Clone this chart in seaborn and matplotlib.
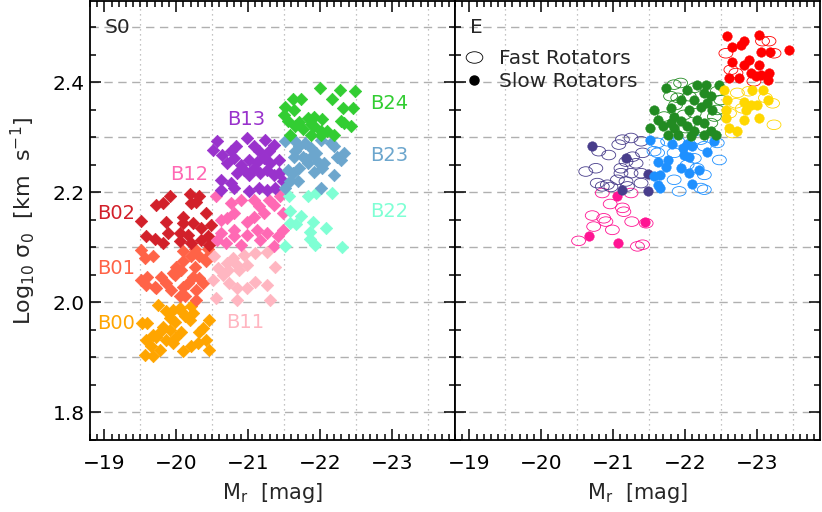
import numpy as np
import matplotlib
matplotlib.use("Agg")
import matplotlib.pyplot as plt
from matplotlib.path import Path
from matplotlib.transforms import Affine2D
from matplotlib.lines import Line2D
from matplotlib.ticker import MultipleLocator
import seaborn as sns

# ---------------- S0 panel data (M_r, log10 sigma0) ----------------
b00_mag = [-19.74, -19.53, -19.60, -19.58, -19.67, -19.86, -19.95, -20.05, -19.91, -19.98,
           -20.07, -20.12, -20.21, -20.23, -20.19, -19.81, -19.91, -19.77, -19.72, -19.65,
           -19.77, -19.56, -19.67, -19.95, -20.09, -20.07, -20.21, -20.30, -20.32, -20.37,
           -20.42, -20.46, -20.46, -19.98, -19.86]
b00_sig = [1.996, 1.963, 1.963, 1.932, 1.941, 1.984, 1.987, 1.990, 1.972, 1.965,
           1.984, 1.975, 1.993, 1.981, 1.969, 1.956, 1.950, 1.947, 1.938, 1.920,
           1.914, 1.905, 1.902, 1.927, 1.911, 1.947, 1.920, 1.927, 1.947, 1.954,
           1.932, 1.914, 1.969, 1.936, 1.932]

b01_mag = [-19.51, -19.56, -19.67, -19.51, -19.60, -19.79, -19.72, -19.93, -20.00, -20.09,
           -20.21, -20.32, -20.46, -20.42, -20.26, -20.07, -19.98, -20.23, -20.32, -20.16,
           -20.09, -20.28, -20.05, -20.12, -20.37, -20.44, -20.26, -20.09, -19.58, -19.70,
           -19.86, -19.95, -20.28]
b01_sig = [2.096, 2.081, 2.084, 2.041, 2.047, 2.047, 2.027, 2.023, 2.065, 2.075,
           2.084, 2.084, 2.087, 2.075, 2.065, 2.059, 2.050, 2.047, 2.045, 2.036,
           2.029, 2.023, 2.011, 2.011, 2.036, 2.098, 2.098, 2.093, 2.032, 2.029,
           2.036, 2.054, 2.005]

b02_mag = [-19.91, -20.19, -20.32, -20.21, -20.28, -20.42, -19.81, -19.72, -19.51, -19.86,
           -20.09, -20.09, -20.23, -20.35, -20.49, -19.58, -19.70, -19.81, -19.88, -20.05,
           -20.16, -20.05, -20.21, -20.35, -20.44, -20.46]
b02_sig = [2.194, 2.198, 2.194, 2.181, 2.183, 2.163, 2.181, 2.178, 2.149, 2.147,
           2.156, 2.145, 2.145, 2.136, 2.141, 2.120, 2.116, 2.109, 2.127, 2.127,
           2.123, 2.111, 2.109, 2.114, 2.120, 2.105]

b11_mag = [-20.53, -20.70, -20.79, -20.84, -20.99, -20.51, -20.65, -20.74, -20.84, -20.99,
           -21.09, -21.26, -21.37, -20.56, -20.84, -21.30, -20.88, -20.72, -20.58, -20.95,
           -21.09, -21.27]
b11_sig = [2.084, 2.072, 2.081, 2.069, 2.069, 2.041, 2.050, 2.036, 2.027, 2.027,
           2.038, 2.032, 2.065, 2.009, 2.005, 2.005, 2.059, 2.059, 2.063, 2.087,
           2.090, 2.092]

b12_mag = [-20.55, -20.76, -20.71, -20.62, -20.80, -20.90, -21.08, -21.15, -21.22, -21.29,
           -21.36, -21.45, -21.48, -21.08, -20.99, -20.80, -20.62, -20.57, -20.80, -20.99,
           -21.13, -21.27, -21.41, -21.49, -21.17, -21.36, -20.90, -20.69]
b12_sig = [2.193, 2.181, 2.153, 2.150, 2.162, 2.187, 2.187, 2.175, 2.162, 2.187,
           2.178, 2.193, 2.162, 2.156, 2.147, 2.132, 2.126, 2.114, 2.120, 2.123,
           2.132, 2.126, 2.120, 2.132, 2.114, 2.102, 2.105, 2.108]

b13_mag = [-20.57, -20.64, -20.76, -20.83, -20.99, -21.08, -21.15, -21.24, -21.36, -21.29,
           -20.71, -20.80, -20.90, -21.01, -21.13, -21.22, -21.31, -21.43, -20.62, -20.76,
           -20.85, -20.94, -21.01, -21.08, -21.17, -21.27, -21.36, -21.43, -20.62, -20.80,
           -21.01, -21.15, -21.27, -21.38, -21.48, -20.51]
b13_sig = [2.293, 2.268, 2.275, 2.284, 2.299, 2.284, 2.275, 2.296, 2.287, 2.275,
           2.253, 2.262, 2.250, 2.259, 2.256, 2.262, 2.253, 2.259, 2.223, 2.217,
           2.235, 2.241, 2.232, 2.244, 2.235, 2.241, 2.232, 2.235, 2.205, 2.208,
           2.202, 2.208, 2.205, 2.208, 2.220, 2.278]

b22_mag = [-21.57, -21.83, -21.94, -22.17, -21.59, -21.73, -21.58, -21.67, -21.90, -22.08,
           -21.86, -21.86, -21.93, -21.52, -22.31]
b22_sig = [2.193, 2.193, 2.199, 2.199, 2.166, 2.157, 2.145, 2.143, 2.147, 2.135,
           2.128, 2.115, 2.105, 2.102, 2.101]

b23_mag = [-21.52, -21.64, -21.71, -21.66, -21.79, -21.87, -21.94, -22.01, -22.15, -22.20,
           -21.64, -21.76, -21.90, -21.83, -21.97, -22.06, -22.24, -22.34, -22.29, -21.55,
           -21.62, -21.71, -21.92, -22.03, -22.20, -21.59, -21.69, -22.01, -21.52, -21.80]
b23_sig = [2.293, 2.296, 2.284, 2.275, 2.290, 2.281, 2.272, 2.296, 2.290, 2.284,
           2.265, 2.265, 2.268, 2.253, 2.256, 2.253, 2.265, 2.272, 2.259, 2.241,
           2.235, 2.244, 2.238, 2.244, 2.232, 2.220, 2.220, 2.208, 2.208, 2.261]

b24_mag = [-22.00, -22.28, -22.49, -22.17, -21.62, -21.73, -21.51, -22.32, -22.46, -21.50,
           -21.64, -21.83, -21.92, -22.03, -21.71, -21.87, -22.29, -22.34, -22.43, -21.66,
           -21.76, -21.92, -22.01, -22.10, -22.20, -21.59, -21.87, -22.01, -21.55]
b24_sig = [2.390, 2.387, 2.385, 2.370, 2.370, 2.369, 2.356, 2.353, 2.353, 2.341,
           2.350, 2.335, 2.338, 2.334, 2.328, 2.325, 2.329, 2.326, 2.321, 2.320,
           2.316, 2.320, 2.311, 2.311, 2.305, 2.305, 2.305, 2.305, 2.330]

s0_bins = ["B00", "B01", "B02", "B11", "B12", "B13", "B22", "B23", "B24"]
s0_colors = ["#FFA500", "#FF6347", "#D2202A", "#FFB6C1", "#FF69B4", "#9932CC",
             "#7FFFD4", "#6CA6CD", "#32CD32"]
s0_label_mag = [-18.90, -18.90, -18.90, -20.70, -19.91, -20.71, -22.70, -22.70, -22.70]
s0_label_sig = [1.962, 2.061, 2.161, 1.963, 2.232, 2.332, 2.165, 2.267, 2.362]

# ---------------- E panel data ----------------
pink_fast_mag = [-20.85, -21.25, -20.96, -21.13, -21.15, -20.71, -20.87, -20.90, -20.73, -20.99,
                 -21.26, -21.46, -20.52, -21.34, -21.41]
pink_fast_sig = [2.199, 2.199, 2.179, 2.172, 2.165, 2.158, 2.153, 2.147, 2.138, 2.132,
                 2.147, 2.144, 2.112, 2.102, 2.105]
pink_slow_mag = [-21.06, -21.44, -20.66, -21.07]
pink_slow_sig = [2.193, 2.147, 2.121, 2.109]

slate_fast_mag = [-21.13, -21.25, -21.39, -21.08, -20.80, -20.94, -21.41, -21.27, -21.18, -21.32,
                  -20.62, -20.76, -21.11, -21.11, -21.25, -21.39, -20.78, -20.92, -20.85, -21.06,
                  -21.18, -21.39, -21.20, -20.97]
slate_fast_sig = [2.296, 2.299, 2.293, 2.287, 2.275, 2.268, 2.272, 2.265, 2.256, 2.253,
                  2.238, 2.244, 2.244, 2.235, 2.235, 2.235, 2.217, 2.214, 2.211, 2.223,
                  2.220, 2.217, 2.211, 2.210]
slate_slow_mag = [-20.71, -21.18, -21.49, -21.13, -21.48]
slate_slow_sig = [2.285, 2.262, 2.233, 2.205, 2.202]

blue_fast_mag = [-21.62, -21.76, -21.90, -22.22, -22.27, -22.45, -21.62, -21.85, -22.13, -22.48,
                 -22.17, -22.27, -21.92, -22.22, -22.27, -21.57, -22.03, -21.85]
blue_fast_sig = [2.290, 2.293, 2.293, 2.296, 2.284, 2.290, 2.272, 2.272, 2.262, 2.259,
                 2.244, 2.232, 2.202, 2.208, 2.205, 2.275, 2.250, 2.223]
blue_slow_mag = [-21.51, -21.82, -22.03, -22.10, -21.97, -21.99, -22.06, -22.31, -22.41, -21.62,
                 -21.76, -21.73, -21.94, -22.06, -22.20, -21.57, -21.66, -21.62, -21.66, -22.10]
blue_slow_sig = [2.296, 2.288, 2.288, 2.285, 2.281, 2.268, 2.265, 2.273, 2.293, 2.256,
                 2.259, 2.247, 2.244, 2.235, 2.241, 2.229, 2.232, 2.214, 2.208, 2.216]

green_fast_mag = [-21.85, -21.94, -22.13, -21.80, -21.90, -22.06, -22.45, -22.50, -22.41, -21.71,
                  -22.13, -21.99, -22.36, -22.01, -22.22, -21.87, -22.45]
green_fast_sig = [2.396, 2.399, 2.390, 2.375, 2.372, 2.375, 2.384, 2.368, 2.338, 2.338,
                  2.344, 2.341, 2.326, 2.317, 2.317, 2.359, 2.350]
green_slow_mag = [-21.73, -22.03, -22.17, -22.29, -22.48, -22.27, -22.36, -21.94, -22.13, -22.31,
                  -21.57, -21.80, -22.06, -22.22, -22.38, -21.62, -21.85, -21.94, -22.17, -22.27,
                  -21.52, -21.69, -21.85, -22.03, -22.13, -22.36, -21.76, -21.90, -22.08, -22.27,
                  -22.43, -21.80]
green_slow_sig = [2.390, 2.387, 2.396, 2.396, 2.396, 2.381, 2.375, 2.368, 2.368, 2.362,
                  2.350, 2.353, 2.350, 2.356, 2.350, 2.332, 2.338, 2.329, 2.332, 2.326,
                  2.317, 2.320, 2.317, 2.320, 2.311, 2.311, 2.305, 2.305, 2.302, 2.305,
                  2.305, 2.326]

gold_fast_mag = [-22.73, -22.80, -22.89, -23.12, -23.24, -22.66, -22.71, -23.22, -22.62]
gold_fast_sig = [2.381, 2.353, 2.384, 2.372, 2.323, 2.308, 2.362, 2.362, 2.344]
gold_slow_mag = [-22.55, -22.59, -22.57, -22.57, -22.94, -23.08, -22.82, -22.92, -23.01, -23.15,
                 -22.85, -22.82, -23.03, -22.73, -22.62]
gold_slow_sig = [2.387, 2.368, 2.350, 2.335, 2.387, 2.387, 2.365, 2.359, 2.359, 2.368,
                 2.350, 2.332, 2.335, 2.311, 2.317]

red_fast_mag = [-22.57, -23.17, -23.08, -22.64, -22.71, -22.96, -23.24]
red_fast_sig = [2.453, 2.475, 2.475, 2.423, 2.417, 2.402, 2.453]
red_slow_mag = [-22.59, -22.66, -22.78, -22.82, -23.03, -23.06, -23.19, -23.45, -22.66, -22.82,
                -22.89, -23.03, -22.92, -23.06, -23.17, -22.62, -22.75, -23.15, -22.99]
red_slow_sig = [2.484, 2.465, 2.468, 2.475, 2.487, 2.456, 2.456, 2.459, 2.438, 2.432,
                2.441, 2.432, 2.417, 2.414, 2.417, 2.408, 2.408, 2.405, 2.411]

e_colors = ["#FF1493", "#483D8B", "#1E90FF", "#228B22", "#FFD700", "#FF0000"]

panel_titles = ["S0", "E"]
legend_labels = ["Fast Rotators", "Slow Rotators"]
x_ticks = [-19, -20, -21, -22, -23]
y_ticks = [1.8, 2.0, 2.2, 2.4]

# ---------------- styling ----------------
sns.set_style("white")
plt.rcParams["font.family"] = ["DejaVu Sans"]
plt.rcParams["axes.linewidth"] = 1.3

FS = 14.5
fig = plt.figure(figsize=(8.22, 5.12), dpi=100)
W, H = 822.0, 512.0
axL = fig.add_axes([90 / W, 72 / H, 365 / W, 439 / H])
axR = fig.add_axes([455 / W, 72 / H, 365 / W, 439 / H])

for ax in (axL, axR):
    ax.set_xlim(-18.8, -23.88)
    ax.set_ylim(1.75, 2.548)
    for v in np.arange(1.8, 2.55, 0.1):
        ax.axhline(v, color="#b0b0b0", lw=1.0, ls=(0, (6, 4)), zorder=0)
    for v in [-19.5, -20.5, -21.5, -22.5, -23.5]:
        ax.axvline(v, color="#b0b0b0", lw=0.9, ls=(0, (1, 3)), zorder=0)
    ax.set_xticks(x_ticks)
    ax.xaxis.set_minor_locator(MultipleLocator(0.1))
    ax.set_yticks(y_ticks)
    ax.yaxis.set_minor_locator(MultipleLocator(0.05))
    ax.tick_params(which="both", direction="in", top=True, right=True,
                   bottom=True, left=True, width=1.1, colors="black")
    ax.tick_params(which="major", length=8, labelsize=FS, pad=10)
    ax.tick_params(which="minor", length=4)
    for sp in ax.spines.values():
        sp.set_color("black")
        sp.set_linewidth(1.3)
    ax.set_xlabel("M$_\\mathrm{r}$  [mag]", fontsize=FS + 0.5, labelpad=6)

axL.set_yticklabels([f"{v:.1f}" for v in y_ticks])
axL.tick_params(axis="y", pad=4)
axR.tick_params(axis="y", labelleft=False)
axL.set_ylabel("Log$_\\mathrm{10}$ σ$_\\mathrm{0}$  [km  s$^\\mathrm{-1}$]",
               fontsize=FS + 1.5, labelpad=10)

# ---------------- S0 panel ----------------
s0_mag = [b00_mag, b01_mag, b02_mag, b11_mag, b12_mag, b13_mag, b22_mag, b23_mag, b24_mag]
s0_sig = [b00_sig, b01_sig, b02_sig, b11_sig, b12_sig, b13_sig, b22_sig, b23_sig, b24_sig]
for mags, sigs, col, name, lx, ly in zip(s0_mag, s0_sig, s0_colors, s0_bins,
                                          s0_label_mag, s0_label_sig):
    sns.scatterplot(x=mags, y=sigs, ax=axL, marker="D", s=40, color=col,
                    edgecolor=col, linewidth=0.5, zorder=3)
    axL.text(lx, ly, name, color=col, fontsize=FS - 0.5, ha="left", va="center")

axL.text(0.041, 0.94, panel_titles[0], transform=axL.transAxes, fontsize=FS,
         ha="left", va="center")

# ---------------- E panel ----------------
ellipse = Path.unit_circle().transformed(Affine2D().scale(1.45, 1.0))
e_fast = [(pink_fast_mag, pink_fast_sig), (slate_fast_mag, slate_fast_sig),
          (blue_fast_mag, blue_fast_sig), (green_fast_mag, green_fast_sig),
          (gold_fast_mag, gold_fast_sig), (red_fast_mag, red_fast_sig)]
e_slow = [(pink_slow_mag, pink_slow_sig), (slate_slow_mag, slate_slow_sig),
          (blue_slow_mag, blue_slow_sig), (green_slow_mag, green_slow_sig),
          (gold_slow_mag, gold_slow_sig), (red_slow_mag, red_slow_sig)]
for (mx, sy), col in zip(e_fast, e_colors):
    sns.scatterplot(x=mx, y=sy, ax=axR, marker=ellipse, s=100, facecolor="none",
                    edgecolor=col, linewidth=0.6, zorder=3)
for (mx, sy), col in zip(e_slow, e_colors):
    sns.scatterplot(x=mx, y=sy, ax=axR, marker="o", s=48, color=col,
                    edgecolor=col, linewidth=0.3, zorder=4)

axR.text(0.041, 0.94, panel_titles[1], transform=axR.transAxes, fontsize=FS,
         ha="left", va="center")

handles = [Line2D([], [], marker=ellipse, linestyle="none", markersize=12,
                  markerfacecolor="none", markeredgecolor="black", markeredgewidth=0.6),
           Line2D([], [], marker="o", linestyle="none", markersize=6.5,
                  markerfacecolor="black", markeredgecolor="black")]
axR.legend(handles, legend_labels, loc="upper left", bbox_to_anchor=(0.005, 0.905),
           frameon=False, fontsize=FS, handlelength=1.1, handletextpad=0.7,
           labelspacing=0.2, borderaxespad=0.0, borderpad=0.3)

fig.savefig("out.png", dpi=100)
